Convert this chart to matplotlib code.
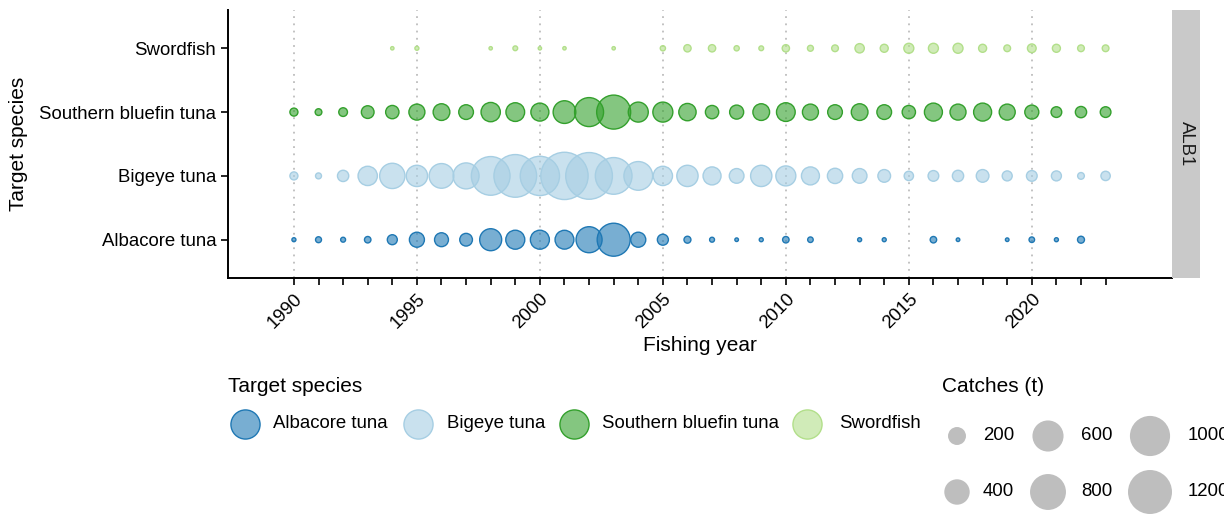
import numpy as np
import matplotlib
matplotlib.use("Agg")
import matplotlib.pyplot as plt

plt.rcParams['font.family'] = ['Liberation Sans', 'DejaVu Sans']

years = list(range(1990, 2024))
species = ["Albacore tuna", "Bigeye tuna", "Southern bluefin tuna", "Swordfish"]
colors = ["#1F78B4", "#A6CEE3", "#33A02C", "#B2DF8A"]
nan = np.nan

albacore = [10, 22, 15, 26, 62, 140, 120, 100, 300, 224, 224, 220, 420, 675, 140, 75, 30, 15,
            8, 10, 26, 19, nan, 10, 10, nan, 26, 8, nan, 8, 19, 10, 30, nan]
bigeye = [40, 22, 79, 231, 397, 281, 378, 419, 928, 1130, 957, 1387, 1352, 835, 511, 231, 281, 201,
          134, 281, 248, 201, 145, 134, 100, 54, 71, 79, 100, 62, 71, 62, 28, 54]
sbt = [40, 28, 47, 100, 110, 159, 173, 134, 231, 217, 201, 319, 521, 717, 248, 248, 186, 110,
       122, 173, 217, 159, 134, 173, 134, 110, 201, 159, 201, 159, 122, 71, 79, 71]
swordfish = [nan, nan, nan, nan, 7, 10, nan, nan, 7, 14, 7, 7, nan, 7, nan, 17, 33, 33,
             17, 14, 33, 22, 28, 54, 40, 62, 62, 62, 40, 28, 47, 40, 28, 28]
series = [albacore, bigeye, sbt, swordfish]

size_breaks = [200, 400, 600, 800, 1000, 1200]
major_years = [1990, 1995, 2000, 2005, 2010, 2015, 2020]

W, H = 1224, 515
fig = plt.figure(figsize=(W / 100, H / 100), dpi=100)

def px_axes(l, t, r, b):
    return fig.add_axes([l / W, 1 - b / H, (r - l) / W, (b - t) / H])

K = 0.836  # points^2 per tonne
FS = 13.4
FT = 15

ax = px_axes(228, 10, 1172, 278)
ax.set_xlim(1987.32, 2025.7)
ax.set_ylim(-0.6, 3.6)
for y in major_years:
    ax.axvline(y, color="#BDBDBD", lw=1.3, ls=(0, (1, 3)), zorder=0)
for i, (vals, c) in enumerate(zip(series, colors)):
    v = np.array(vals, dtype=float)
    m = ~np.isnan(v)
    ax.scatter(np.array(years)[m], np.full(m.sum(), i), s=v[m] * K,
               facecolor=matplotlib.colors.to_rgba(c, 0.6), edgecolor=c, linewidth=1.0, zorder=2)
for s in ["top", "right"]:
    ax.spines[s].set_visible(False)
for s in ["left", "bottom"]:
    ax.spines[s].set_linewidth(1.4)
ax.set_yticks(range(4))
ax.set_yticklabels(species, fontsize=FS)
ax.set_xticks(years)
ax.set_xticklabels([str(y) if y in major_years else "" for y in years], fontsize=FS,
                   rotation=45, ha="right", va="top", rotation_mode="anchor")
ax.tick_params(axis="both", length=5, width=1.2, color="black")
ax.tick_params(axis="x", pad=4)
ax.set_xlabel("Fishing year", fontsize=FT, labelpad=3)
ax.set_ylabel("Target species", fontsize=FT, labelpad=8)

# strip
sax = px_axes(1172, 10, 1200, 278)
sax.set_facecolor("#C9C9C9")
sax.set_xticks([]); sax.set_yticks([])
for s in sax.spines.values():
    s.set_visible(False)
sax.text(0.5, 0.5, "ALB1", rotation=-90, ha="center", va="center", fontsize=FS,
         transform=sax.transAxes, color="#1A1A1A")

# legends
lax = px_axes(0, 360, W, H)
lax.set_xlim(0, W); lax.set_ylim(H, 360)
lax.axis("off")
lax.text(228, 387, "Target species", fontsize=FT, va="center", ha="left")
sp_circ_x = [245, 418, 574, 807]
sp_text_x = [273, 447, 602, 839]
for cx, tx, name, c in zip(sp_circ_x, sp_text_x, species, colors):
    lax.scatter([cx], [424], s=440, facecolor=matplotlib.colors.to_rgba(c, 0.6), edgecolor=c,
                linewidth=1.0, clip_on=False)
    lax.text(tx, 424, name, fontsize=FS, va="center", ha="left")

lax.text(942, 387, "Catches (t)", fontsize=FT, va="center", ha="left")
col_cx = [957, 1048, 1150]
col_tx = [983, 1081, 1188]
row_y = [436, 492]
for k, v in enumerate(size_breaks):
    col = k // 2
    row = k % 2
    lax.scatter([col_cx[col]], [row_y[row]], s=v * K, facecolor="#BEBEBE", edgecolor="none",
                clip_on=False)
    lax.text(col_tx[col], row_y[row], str(v), fontsize=FS, va="center", ha="left", clip_on=False)

fig.savefig("out.png", dpi=100)
